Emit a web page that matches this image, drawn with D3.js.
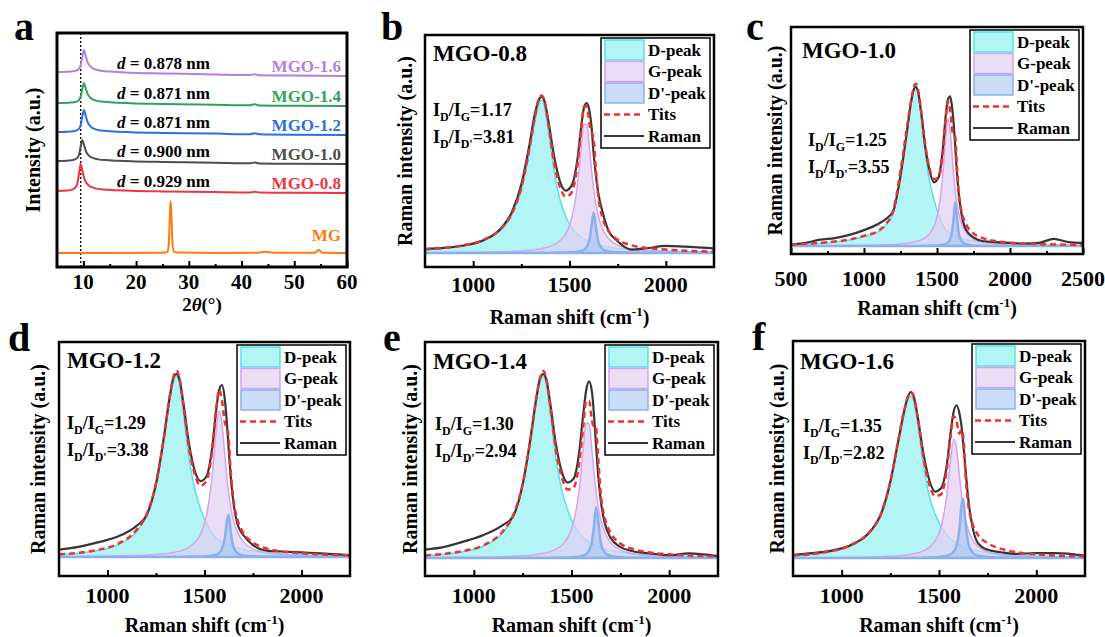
<!DOCTYPE html>
<html>
<head>
<meta charset="utf-8">
<script src="https://cdn.jsdelivr.net/npm/d3@7"></script>
<style>
  body { margin: 0; background: #fff; }
  text { font-family: "Liberation Serif", "Times New Roman", serif; font-weight: bold; }
</style>
</head>
<body>
<div id="app"></div>
<script>
// ---------- panel a : XRD patterns, [2theta, intensity a.u.] ----------
const xrdNames = ["MGO-1.6", "MGO-1.4", "MGO-1.2", "MGO-1.0", "MGO-0.8", "MG"]
const xrdSpacing = ["0.878", "0.871", "0.871", "0.900", "0.929"]
const xrdTicks = [10, 20, 30, 40, 50, 60]
const xrdMinor = [15, 25, 35, 45, 55]
const xrdRefLine = 9.5

const xrdMgo16 = [[5, 83.3], [7.6, 83.5], [8.6, 83.9], [9.1, 84.5], [9.5, 86.3], [9.8, 89.9], [10.1, 92.7], [10.4, 90.6], [10.8, 87.5], [11.3, 85.8], [12.1, 84.6], [13.1, 84.0], [15.1, 83.5], [19, 83.0], [25, 82.7], [35, 82.3], [41.5, 82.0], [42.5, 82.4], [43.5, 81.9], [50, 81.8], [60, 81.6]]
const xrdMgo14 = [[5, 70.1], [7.6, 70.3], [8.6, 70.6], [9.1, 71.2], [9.5, 72.8], [9.8, 76.0], [10.1, 78.6], [10.4, 76.7], [10.8, 74.0], [11.3, 72.4], [12.1, 71.3], [13.1, 70.8], [15.1, 70.4], [19, 70.0], [25, 69.7], [35, 69.3], [41.5, 69.1], [42.5, 69.5], [43.5, 69.0], [50, 68.9], [60, 68.8]]
const xrdMgo12 = [[5, 57.7], [7.6, 57.9], [8.6, 58.3], [9.1, 58.9], [9.5, 60.7], [9.8, 64.3], [10.1, 67.1], [10.4, 65.0], [10.8, 61.9], [11.3, 60.2], [12.1, 59.0], [13.1, 58.4], [15.1, 58.0], [19, 57.6], [25, 57.3], [35, 57.0], [41.5, 56.7], [42.5, 57.2], [43.5, 56.7], [50, 56.5], [60, 56.4]]
const xrdMgo10 = [[5, 45.3], [7.3, 45.5], [8.3, 45.9], [8.8, 46.5], [9.2, 48.2], [9.5, 51.6], [9.8, 54.3], [10.1, 52.3], [10.5, 49.4], [11.0, 47.7], [11.8, 46.6], [12.8, 46.0], [14.8, 45.6], [19, 45.2], [25, 44.9], [35, 44.6], [41.5, 44.3], [42.5, 44.7], [43.5, 44.2], [50, 44.1], [60, 44.0]]
const xrdMgo08 = [[5, 32.5], [7.0, 32.7], [8.0, 33.2], [8.5, 34.0], [8.9, 36.1], [9.2, 40.4], [9.5, 44.0], [9.8, 41.3], [10.2, 37.6], [10.7, 35.6], [11.5, 34.2], [12.5, 33.5], [14.5, 33.0], [19, 32.6], [25, 32.3], [35, 32.0], [41.5, 31.8], [42.5, 32.2], [43.5, 31.8], [50, 31.7], [60, 31.6]]
const xrdMg = [[5, 6.0], [15, 6.0], [25, 6.1], [25.9, 6.4], [26.2, 10], [26.4, 22], [26.55, 28.2], [26.7, 22], [26.9, 10], [27.2, 6.6], [28, 6.2], [35, 6.0], [43, 6.1], [44.5, 6.5], [46, 6.1], [54, 6.1], [54.4, 6.9], [54.65, 7.4], [54.9, 6.9], [55.3, 6.1], [60, 6.0]]

// ---------- panels b-f : Raman spectra with peak fits ----------
const sampleNames = ["MGO-0.8", "MGO-1.0", "MGO-1.2", "MGO-1.4", "MGO-1.6"]
const ratioDG = [1.17, 1.25, 1.29, 1.30, 1.35]
const ratioDDp = [3.81, 3.55, 3.38, 2.94, 2.82]
const legendLabels = ["D-peak", "G-peak", "D'-peak", "Tits", "Raman"]
const ramanTicks = [1000, 1500, 2000]
const ramanMinor = [1250, 1750]
const wideTicks = [500, 1000, 1500, 2000, 2500]
const wideMinor = [750, 1250, 1750, 2250]

// Raman shift grid (cm-1) for b, d, e, f
const shiftX = [750, 850, 950, 1050, 1150, 1200, 1250, 1290, 1320, 1340, 1355, 1370, 1390, 1420, 1450, 1480, 1510, 1540, 1560, 1575, 1590, 1605, 1615, 1625, 1635, 1650, 1670, 1700, 1750, 1820, 1900, 2000, 2100, 2250]
// wider grid for c
const shiftXWide = [500, 600, 700, 800, 900, 1000, 1100, 1150, 1200, 1250, 1290, 1320, 1340, 1355, 1370, 1390, 1420, 1450, 1480, 1510, 1540, 1560, 1575, 1590, 1605, 1615, 1625, 1635, 1650, 1670, 1700, 1750, 1820, 1900, 2000, 2100, 2200, 2300, 2400, 2500]

// MGO-0.8
const bD = [.021, .030, .045, .077, .155, .24, .405, .635, .845, .955, .98, .94, .785, .525, .345, .235, .165, .122, .102, .09, .08, .072, .067, .062, .058, .052, .046, .039, .03, .022, .016, .012, .009, .006]
const bG = [.002, .003, .004, .005, .008, .01, .013, .017, .021, .025, .028, .032, .039, .053, .078, .123, .216, .425, .667, .827, .82, .654, .526, .415, .328, .235, .158, .096, .05, .026, .015, .009, .005, .003]
const bDp = [0, 0, 0, 0, 0, 0, 0, .001, .001, .001, .001, .001, .002, .002, .003, .003, .004, .008, .013, .021, .04, .094, .18, .26, .18, .069, .026, .01, .004, .002, .001, .001, 0, 0]
const bFit = [.023, .033, .049, .082, .163, .25, .418, .653, .867, .981, 1.009, .973, .826, .58, .426, .361, .385, .555, .782, .938, .94, .82, .773, .737, .566, .356, .23, .145, .084, .05, .032, .022, .014, .009]
const bRaman = [.026, .033, .048, .08, .165, .26, .44, .68, .89, .98, 1.0, .975, .85, .62, .46, .40, .43, .59, .80, .93, .96, .90, .80, .64, .52, .38, .27, .15, .075, .022, .03, .045, .04, .03]

// MGO-1.0
const cD = [.01, .013, .018, .026, .038, .06, .09, .13, .21, .46, .70, .88, .97, .99, .95, .82, .58, .40, .29, .20, .135, .10, .09, .08, .072, .067, .063, .059, .053, .047, .04, .031, .023, .017, .013, .01, .008, .007, .006, .005]
const cG = [.001, .001, .002, .002, .003, .004, .006, .008, .01, .013, .017, .021, .024, .028, .032, .038, .053, .079, .126, .226, .45, .687, .798, .73, .554, .44, .346, .275, .199, .136, .084, .044, .023, .013, .008, .005, .004, .003, .002, .002]
const cDp = [0, 0, 0, 0, 0, 0, 0, 0, 0, 0, .001, .001, .001, .001, .001, .002, .002, .003, .003, .004, .008, .014, .022, .042, .099, .19, .275, .19, .073, .028, .011, .004, .002, .001, 0, 0, 0, 0, 0, 0]
const cFit = [.011, .014, .02, .028, .041, .064, .096, .138, .22, .473, .718, .902, .995, 1.019, .983, .86, .635, .482, .419, .43, .593, .801, .91, .852, .725, .697, .684, .524, .325, .211, .135, .079, .048, .031, .021, .015, .012, .01, .008, .007]
const cRaman = [.01, .02, .04, .05, .07, .10, .14, .17, .22, .44, .69, .89, .98, 1.0, .97, .85, .62, .47, .40, .43, .61, .82, .92, .94, .86, .76, .62, .48, .32, .19, .10, .055, .03, .025, .02, .015, .02, .045, .025, .02]

// MGO-1.2
const dD = [.012, .02, .035, .065, .14, .22, .39, .63, .85, .96, .99, .95, .8, .54, .37, .26, .185, .13, .106, .094, .083, .075, .07, .065, .06, .054, .047, .04, .031, .022, .016, .012, .009, .006]
const dG = [.002, .003, .004, .005, .008, .01, .013, .017, .021, .024, .028, .032, .038, .053, .079, .126, .226, .45, .687, .798, .73, .554, .44, .346, .275, .199, .136, .084, .044, .023, .013, .008, .005, .003]
const dDp = [0, 0, 0, 0, 0, 0, 0, .001, .001, .001, .001, .001, .001, .002, .002, .003, .004, .008, .013, .022, .043, .105, .197, .231, .137, .054, .021, .008, .004, .002, .001, 0, 0, 0]
const dFit = [.014, .023, .039, .07, .148, .23, .403, .648, .872, .985, 1.019, .983, .839, .595, .451, .389, .415, .588, .806, .914, .856, .734, .707, .642, .472, .307, .204, .132, .079, .047, .03, .02, .014, .009]
const dRaman = [.04, .055, .08, .11, .17, .225, .40, .65, .87, .98, 1.0, .975, .85, .62, .47, .415, .44, .60, .80, .91, .94, .86, .74, .58, .44, .29, .18, .12, .065, .035, .03, .025, .02, .01]

// MGO-1.4
const eD = [.012, .02, .035, .065, .14, .22, .39, .63, .85, .96, .99, .95, .8, .54, .37, .26, .185, .135, .11, .097, .086, .077, .071, .066, .061, .055, .048, .041, .031, .022, .016, .012, .009, .006]
const eG = [.002, .003, .004, .004, .007, .009, .012, .015, .019, .022, .025, .028, .035, .047, .069, .109, .192, .377, .592, .734, .728, .581, .467, .369, .291, .209, .14, .085, .044, .023, .013, .008, .004, .003]
const eDp = [0, 0, 0, 0, 0, 0, 0, .001, .001, .001, .001, .001, .001, .002, .002, .003, .005, .008, .013, .022, .04, .089, .171, .275, .218, .084, .03, .011, .004, .002, .001, 0, 0, 0]
const eFit = [.014, .023, .039, .069, .147, .229, .402, .646, .87, .983, 1.016, .979, .836, .589, .441, .372, .382, .52, .715, .853, .854, .747, .709, .71, .57, .348, .218, .137, .079, .047, .03, .02, .013, .009]
const eRaman = [.045, .06, .09, .125, .18, .225, .40, .65, .87, .98, 1.0, .975, .85, .62, .47, .41, .43, .58, .78, .91, .96, .90, .78, .62, .47, .31, .19, .11, .06, .035, .025, .015, .025, .01]

// MGO-1.6
const fD = [.015, .022, .04, .075, .16, .25, .45, .69, .865, .95, .975, .945, .815, .56, .375, .265, .19, .14, .115, .10, .09, .08, .074, .069, .064, .058, .05, .042, .032, .023, .017, .012, .009, .006]
const fG = [.001, .002, .003, .004, .006, .008, .011, .014, .017, .02, .022, .026, .031, .043, .064, .103, .185, .379, .599, .716, .661, .495, .388, .302, .238, .17, .114, .07, .037, .019, .011, .006, .004, .003]
const fDp = [0, 0, 0, 0, 0, 0, 0, 0, 0, .001, .001, .002, .002, .003, .004, .005, .008, .014, .023, .038, .074, .174, .311, .357, .223, .091, .037, .015, .006, .003, .002, .001, 0, 0]
const fFit = [.016, .024, .043, .079, .166, .258, .461, .704, .882, .971, .998, .973, .848, .606, .443, .373, .383, .533, .737, .854, .825, .749, .773, .728, .525, .325, .215, .14, .09, .055, .035, .022, .015, .01]
const fRaman = [.02, .03, .045, .08, .165, .26, .46, .70, .88, .97, 1.0, .975, .855, .63, .47, .40, .42, .56, .76, .88, .92, .87, .80, .68, .55, .36, .20, .09, .05, .035, .025, .03, .03, .015]

// ---------- drawing ----------
const svg = d3.select("#app").append("svg").attr("width", 1105).attr("height", 637)

function frameBox(g, fr, w) {
  g.append("rect").attr("x", fr[0]).attr("y", fr[1])
    .attr("width", fr[2] - fr[0]).attr("height", fr[3] - fr[1])
    .attr("fill", "none").attr("stroke", "#000").attr("stroke-width", w || 2.5)
}

function bottomTicks(g, x, yb, major, minor) {
  g.append("g").attr("transform", `translate(0,${yb})`)
    .call(d3.axisBottom(x).tickValues(major).tickSize(-6).tickFormat(""))
    .call(a => a.select(".domain").remove())
    .selectAll("line").attr("stroke-width", 2)
  g.append("g").attr("transform", `translate(0,${yb})`)
    .call(d3.axisBottom(x).tickValues(minor).tickSize(-3).tickFormat(""))
    .call(a => a.select(".domain").remove())
    .selectAll("line").attr("stroke-width", 2)
}

function tickLabels(g, x, yy, values, size) {
  values.forEach(v => {
    g.append("text").attr("x", x(v)).attr("y", yy).attr("dy", ".35em")
      .attr("text-anchor", "middle").attr("font-size", size || 22).text(v)
  })
}

function yTitle(g, cx, cy, str) {
  g.append("text").attr("transform", `translate(${cx},${cy}) rotate(-90)`)
    .attr("dy", ".35em").attr("text-anchor", "middle").attr("font-size", 20).text(str)
}

function letter(g, x, y, s) {
  g.append("text").attr("x", x).attr("y", y).attr("font-size", 40).text(s)
}

// ---- panel a ----
const fa = [57, 33, 347, 267]
const xa = d3.scaleLinear().domain([5, 60]).range([fa[0], fa[2]])
const ya = d3.scaleLinear().domain([0, 100]).range([fa[3], fa[1]])
const xrdSeries = [xrdMgo16, xrdMgo14, xrdMgo12, xrdMgo10, xrdMgo08, xrdMg]
const xrdColors = ["#b47ee2", "#2fa35b", "#2b70e0", "#4d4d4d", "#ee3540", "#ff7b12"]
const ga = svg.append("g")
const xrdLine = d3.line().x(d => xa(d[0])).y(d => ya(d[1])).curve(d3.curveMonotoneX)

ga.append("line").attr("x1", xa(xrdRefLine)).attr("x2", xa(xrdRefLine))
  .attr("y1", fa[1]).attr("y2", fa[3])
  .attr("stroke", "#000").attr("stroke-width", 1.3).attr("stroke-dasharray", "2,2")

xrdSeries.forEach((s, i) => {
  ga.append("path").datum(s).attr("d", xrdLine).attr("fill", "none")
    .attr("stroke", xrdColors[i]).attr("stroke-width", 2)
  const last = s[s.length - 1][1]
  ga.append("text").attr("x", 341).attr("y", ya(last) - (i === 5 ? 18 : 10)).attr("dy", ".35em")
    .attr("text-anchor", "end").attr("font-size", 17).attr("fill", xrdColors[i]).text(xrdNames[i])
  if (i < 5) {
    const mid = s.find(d => d[0] >= 19)[1]
    const t = ga.append("text").attr("x", 117).attr("y", ya(mid) - 10).attr("dy", ".35em").attr("font-size", 17)
    t.append("tspan").attr("font-style", "italic").text("d")
    t.append("tspan").text(" = " + xrdSpacing[i] + " nm")
  }
})
bottomTicks(ga, xa, fa[3], xrdTicks, xrdMinor)
frameBox(ga, fa, 3)
tickLabels(ga, xa, 282, xrdTicks, 21)
const ta = ga.append("text").attr("x", (fa[0] + fa[2]) / 2).attr("y", 304).attr("dy", ".35em")
  .attr("text-anchor", "middle").attr("font-size", 19)
ta.append("tspan").text("2")
ta.append("tspan").attr("font-style", "italic").text("θ")
ta.append("tspan").text("(°)")
yTitle(ga, 33, 150, "Intensity (a.u.)")
letter(ga, 14, 40, "a")

// ---- panels b-f ----
const peakStyles = [
  { key: "D", fill: "#a6f3f3", op: 0.85, stroke: "#55e2e8", sw: 1.5 },
  { key: "G", fill: "#e4cff3", op: 0.7, stroke: "#d3a6ea", sw: 1.5 },
  { key: "Dp", fill: "#a9c4f2", op: 0.6, stroke: "#8bb0f0", sw: 2.5 }
]

const panels = [
  { letter: "b", lp: [381, 40], frame: [425, 35, 714, 267], xs: shiftX, xDom: [750, 2250], yDom: [-0.09, 1.397],
    D: bD, G: bG, Dp: bDp, fit: bFit, raman: bRaman, major: ramanTicks, minor: ramanMinor,
    title: [8, 18], ratio: [8, 75], tickDy: 17, titleDy: 50, ylx: 405 },
  { letter: "c", lp: [746, 40], frame: [791, 27, 1083, 254], xs: shiftXWide, xDom: [500, 2500], yDom: [-0.05, 1.375],
    D: cD, G: cG, Dp: cDp, fit: cFit, raman: cRaman, major: wideTicks, minor: wideMinor,
    title: [11, 23], ratio: [17, 113], tickDy: 24, titleDy: 54, ylx: 775 },
  { letter: "d", lp: [8, 351], frame: [59, 342, 350, 576], xs: shiftX, xDom: [750, 2250], yDom: [-0.104, 1.175],
    D: dD, G: dG, Dp: dDp, fit: dFit, raman: dRaman, major: ramanTicks, minor: ramanMinor,
    title: [8, 18], ratio: [8, 81], tickDy: 19, titleDy: 49, ylx: 38 },
  { letter: "e", lp: [383, 351], frame: [425, 342, 718, 576], xs: shiftX, xDom: [750, 2250], yDom: [-0.098, 1.174],
    D: eD, G: eG, Dp: eDp, fit: eFit, raman: eRaman, major: ramanTicks, minor: ramanMinor,
    title: [8, 19], ratio: [10, 82], tickDy: 19, titleDy: 49, ylx: 410 },
  { letter: "f", lp: [752, 350], frame: [793, 341, 1085, 576], xs: shiftX, xDom: [750, 2250], yDom: [-0.108, 1.307],
    D: fD, G: fG, Dp: fDp, fit: fFit, raman: fRaman, major: ramanTicks, minor: ramanMinor,
    title: [7, 20], ratio: [10, 85], tickDy: 19, titleDy: 49, ylx: 777 }
]

panels.forEach((p, k) => {
  const [x0, y0, x1, y1] = p.frame
  const x = d3.scaleLinear().domain(p.xDom).range([x0, x1])
  const y = d3.scaleLinear().domain(p.yDom).range([y1, y0])
  const g = svg.append("g")

  svg.append("clipPath").attr("id", "clip-" + p.letter)
    .append("rect").attr("x", x0).attr("y", y0).attr("width", x1 - x0).attr("height", y1 - y0)
  const plot = g.append("g").attr("clip-path", `url(#clip-${p.letter})`)

  const area = d3.area().x((d, i) => x(p.xs[i])).y0(y(0)).y1(d => y(d)).curve(d3.curveMonotoneX)
  const line = d3.line().x((d, i) => x(p.xs[i])).y(d => y(d)).curve(d3.curveMonotoneX)

  peakStyles.forEach(s => {
    plot.append("path").datum(p[s.key]).attr("d", area)
      .attr("fill", s.fill).attr("fill-opacity", s.op)
      .attr("stroke", s.stroke).attr("stroke-width", s.sw)
  })
  plot.append("path").datum(p.raman).attr("d", line).attr("fill", "none")
    .attr("stroke", "#363636").attr("stroke-width", 2.2)
  plot.append("path").datum(p.fit).attr("d", line).attr("fill", "none")
    .attr("stroke", "#f0302c").attr("stroke-width", 2.5).attr("stroke-dasharray", "6,4")

  bottomTicks(g, x, y1, p.major, p.minor)
  frameBox(g, p.frame)

  // legend
  const lg = g.append("g").attr("transform", `translate(${x1 - 113},${y0 + 3})`)
  lg.append("rect").attr("width", 109).attr("height", 110)
    .attr("fill", "#fff").attr("stroke", "#000").attr("stroke-width", 1.5)
  legendLabels.forEach((lab, i) => {
    const ry = 12 + i * 21.5
    if (i < 3) {
      const s = peakStyles[i]
      lg.append("rect").attr("x", 4).attr("y", ry - 10).attr("width", 39).attr("height", 20)
        .attr("fill", s.fill).attr("fill-opacity", s.op).attr("stroke", s.stroke).attr("stroke-width", 1.5)
    } else if (i === 3) {
      lg.append("line").attr("x1", 3).attr("x2", 43).attr("y1", ry).attr("y2", ry)
        .attr("stroke", "#f0302c").attr("stroke-width", 2.5).attr("stroke-dasharray", "6,4")
    } else {
      lg.append("line").attr("x1", 3).attr("x2", 43).attr("y1", ry).attr("y2", ry)
        .attr("stroke", "#363636").attr("stroke-width", 2)
    }
    lg.append("text").attr("x", 47).attr("y", ry).attr("dy", ".35em").attr("font-size", 17).text(lab)
  })

  // sample name and intensity ratios
  g.append("text").attr("x", x0 + p.title[0]).attr("y", y0 + p.title[1]).attr("dy", ".35em")
    .attr("font-size", 23).text(sampleNames[k])
  const ratios = [["G", ratioDG[k]], ["D'", ratioDDp[k]]]
  ratios.forEach((r, j) => {
    const t = g.append("text").attr("x", x0 + p.ratio[0]).attr("y", y0 + p.ratio[1] + j * 27)
      .attr("dy", ".35em").attr("font-size", 18)
    t.append("tspan").text("I")
    t.append("tspan").attr("font-size", 12).attr("dy", 5).text("D")
    t.append("tspan").attr("dy", -5).text("/I")
    t.append("tspan").attr("font-size", 12).attr("dy", 5).text(r[0])
    t.append("tspan").attr("dy", -5).text("=" + r[1].toFixed(2))
  })

  tickLabels(g, x, y1 + p.tickDy, p.major)
  const tt = g.append("text").attr("x", (x0 + x1) / 2).attr("y", y1 + p.titleDy).attr("dy", ".35em")
    .attr("text-anchor", "middle").attr("font-size", 20)
  tt.append("tspan").text("Raman shift (cm")
  tt.append("tspan").attr("font-size", 13).attr("dy", -8).text("-1")
  tt.append("tspan").attr("dy", 8).text(")")
  yTitle(g, p.ylx, (y0 + y1) / 2, "Raman intensity (a.u.)")
  letter(g, p.lp[0], p.lp[1], p.letter)
})
</script>
</body>
</html>
